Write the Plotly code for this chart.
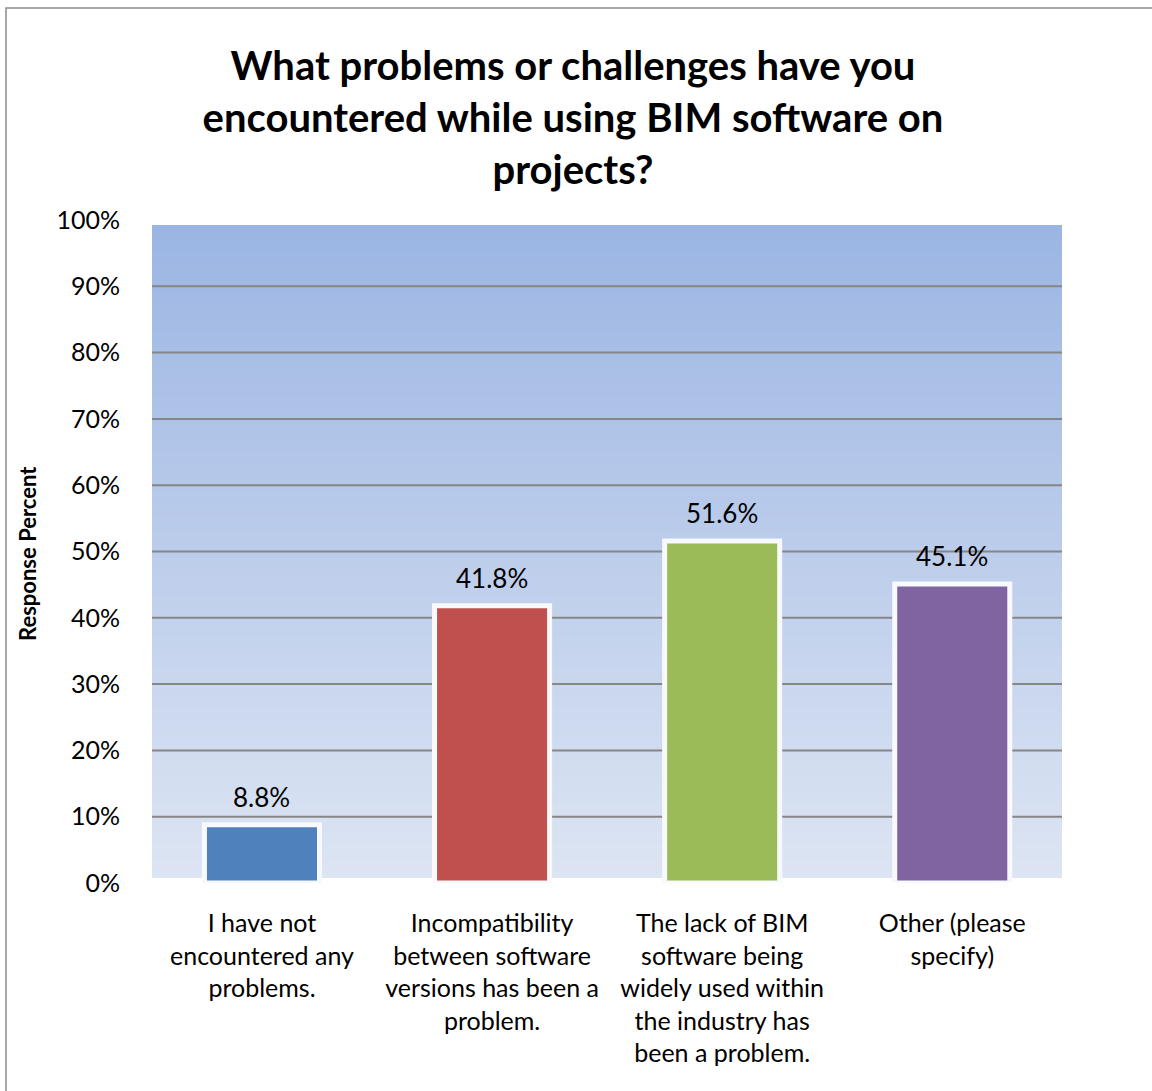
import base64
import struct
import zlib

import plotly.graph_objects as go

# ---- data ----
categories = [
    "I have not<br>encountered any<br>problems.",
    "Incompatibility<br>between software<br>versions has been a<br>problem.",
    "The lack of BIM<br>software being<br>widely used within<br>the industry has<br>been a problem.",
    "Other (please<br>specify)",
]
values = [8.8, 41.8, 51.6, 45.1]
bar_colors = ["#4F81BD", "#C0504D", "#9BBB59", "#8064A2"]
y_ticks = [0, 10, 20, 30, 40, 50, 60, 70, 80, 90, 100]
y_tick_labels = [f"{v}%" for v in y_ticks]
title_text = ("What problems or challenges have you<br>"
              "encountered while using BIM software on<br>projects?")
y_title = "Response Percent"

# ---- layout geometry (pixels) ----
W, H = 1152, 1091
L, R, T, B = 152, 90, 220, 208
PW, PH = W - L - R, H - T - B
FONT = "Lato"


def px_x(x):
    return (x - L) / PW


def px_y(y):
    return (H - B - y) / PH


def gradient_png(top, bot, n=256):
    """Vertical 1 x n RGB gradient PNG as a data URI."""
    raw = b""
    for i in range(n):
        f = i / (n - 1)
        c = bytes(round(top[k] + (bot[k] - top[k]) * f) for k in range(3))
        raw += b"\x00" + c

    def chunk(tag, data):
        return (struct.pack(">I", len(data)) + tag + data
                + struct.pack(">I", zlib.crc32(tag + data) & 0xFFFFFFFF))

    png = (b"\x89PNG\r\n\x1a\n"
           + chunk(b"IHDR", struct.pack(">IIBBBBB", 1, n, 8, 2, 0, 0, 0))
           + chunk(b"IDAT", zlib.compress(raw, 9))
           + chunk(b"IEND", b""))
    return "data:image/png;base64," + base64.b64encode(png).decode()


xs = list(range(len(categories)))

fig = go.Figure()
fig.add_trace(go.Bar(
    x=xs, y=values,
    marker=dict(color=bar_colors, line=dict(color="#F7F9FC", width=5)),
    width=0.5,
    cliponaxis=False,
    hoverinfo="skip",
))

# gradient plot background
y_lo, y_hi = px_y(878), px_y(225)
fig.add_layout_image(dict(
    source=gradient_png((155, 181, 227), (221, 229, 243)),
    xref="paper", yref="paper", x=0, y=y_hi,
    sizex=1, sizey=y_hi - y_lo, xanchor="left", yanchor="top",
    sizing="stretch", layer="below",
))

shapes = []
# gridlines (interior ticks only)
for v in y_ticks[1:-1]:
    shapes.append(dict(
        type="line", xref="paper", yref="y", x0=0, x1=1, y0=v, y1=v,
        line=dict(color="#868686", width=2), layer="below",
    ))
# outer border of the chart area
shapes.append(dict(
    type="rect", xref="paper", yref="paper",
    x0=px_x(6), x1=px_x(1170), y0=px_y(1110), y1=px_y(8),
    line=dict(color="#8C8C8C", width=1.5), fillcolor="rgba(0,0,0,0)",
    layer="above",
))

annotations = []
for x, v in zip(xs, values):
    annotations.append(dict(
        x=x, y=v, xref="x", yref="y", text=f"{v:.1f}%",
        showarrow=False, yanchor="bottom", yshift=10,
        font=dict(family=FONT, size=26, color="#000000"),
    ))
annotations.append(dict(
    x=px_x(27), y=px_y(553), xref="paper", yref="paper", text=f"<b>{y_title}</b>",
    textangle=-90, showarrow=False, xanchor="center", yanchor="middle",
    font=dict(family=FONT, size=22, color="#000000"),
))

fig.update_layout(
    width=W, height=H,
    margin=dict(l=L, r=R, t=T, b=B, pad=0),
    paper_bgcolor="white",
    plot_bgcolor="rgba(0,0,0,0)",
    showlegend=False,
    title=dict(
        text=f"<b>{title_text}</b>",
        x=573 / W, xanchor="center",
        y=1 - 80 / H, yanchor="top", yref="container",
        font=dict(family=FONT, size=40, color="#000000"),
    ),
    xaxis=dict(
        range=[-0.478, 3.477],
        tickvals=xs, ticktext=categories,
        showgrid=False, zeroline=False, showline=False,
        ticks="outside", ticklen=0, tickcolor="rgba(0,0,0,0)",
        ticklabelstandoff=18,
        tickfont=dict(family=FONT, size=25, color="#000000"),
        fixedrange=True,
    ),
    yaxis=dict(
        range=[0, 100],
        tickvals=y_ticks, ticktext=y_tick_labels,
        showgrid=False, zeroline=False, showline=False,
        ticks="outside", ticklen=0, tickcolor="rgba(0,0,0,0)",
        ticklabelstandoff=26,
        tickfont=dict(family=FONT, size=25, color="#000000"),
        fixedrange=True,
    ),
    shapes=shapes,
    annotations=annotations,
)

fig.write_html(
    "out.html",
    config={"displayModeBar": False},
    post_script="document.body.style.margin='0';",
)
